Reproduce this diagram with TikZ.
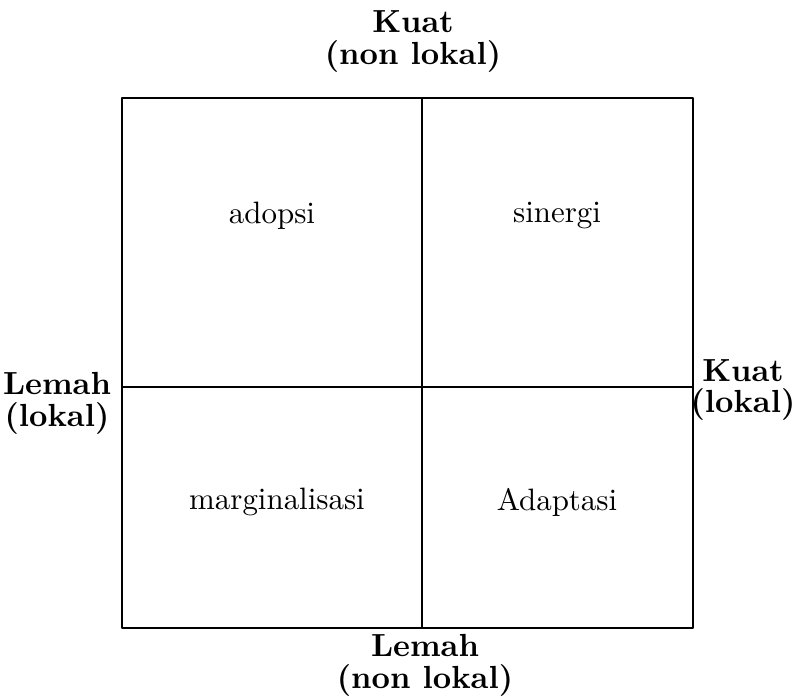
\documentclass[tikz,border=0pt]{standalone}
\usepackage{amsmath}
\usepackage{tikz}
\usetikzlibrary{calc}

\begin{document}
\begin{tikzpicture}[x=0.02cm, y=-0.02cm, line join=round,
    frameline/.style={line width=1.1pt},
    axislabel/.style={font=\normalsize\bfseries, scale=1.82, align=center, inner sep=0pt},
    celllabel/.style={font=\normalsize, scale=1.76, inner sep=0pt}]

    % canvas in pixel units, origin at top left
    \useasboundingbox (0, 0) rectangle (797, 696);

    % corners and midpoints of the square
    \coordinate (TL) at (122, 98);
    \coordinate (BR) at (693, 628);
    \coordinate (Tm) at (422, 98);
    \coordinate (Bm) at (422, 628);
    \coordinate (Lm) at (122, 387);
    \coordinate (Rm) at (693, 387);

    % frame and dividing lines
    \draw[frameline] (TL) rectangle (BR);
    \draw[frameline] (Tm) -- (Bm);
    \draw[frameline] (Lm) -- (Rm);

    % the four quadrants
    \node[celllabel] (adopsi)   at (272, 216) {adopsi};
    \node[celllabel] (sinergi)  at (557, 216) {sinergi};
    \node[celllabel] (marginal) at (277, 502) {marginalisasi};
    \node[celllabel] (adaptasi) at (557, 502) {Adaptasi};

    % axis ends
    \node[axislabel] (top)    at (413, 42)  {Kuat\\[-2pt](non lokal)};
    \node[axislabel] (bottom) at (425, 665) {Lemah\\[-2pt](non lokal)};
    \node[axislabel] (left)   at (57, 403)  {Lemah\\[-2pt](lokal)};
    \node[axislabel] (right)  at (743, 390) {Kuat\\[-2pt](lokal)};

\end{tikzpicture}
\end{document}
